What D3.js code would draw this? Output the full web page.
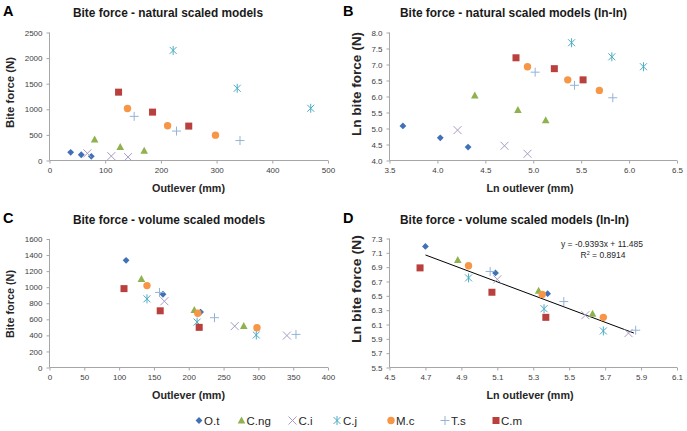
<!DOCTYPE html>
<html><head><meta charset="utf-8">
<script src="https://cdn.jsdelivr.net/npm/d3@7"></script>
<style>
html,body{margin:0;padding:0;background:#fff;}
svg{display:block;font-family:"Liberation Sans",Arial,sans-serif;}
</style></head><body>
<svg id="c" width="687" height="431"></svg>
<script>
// ---------- DATA ----------
const species = ["O.t","C.ng","C.i","C.j","M.c","T.s","C.m"];
const colors  = ["#3f70b8","#8fb24f","#a99bc6","#4bacc6","#f79646","#95b3d7","#b9403d"];
const shapes  = ["diamond","triangle","x","star","circle","plus","square"];

// Panel A: natural scaled models (outlever mm, bite force N)
const A_x = [[38,57,75],[81,127,170],[68,111,141],[222,337,469],[140,212,298],[152,228,342],[124,185,250]];
const A_y = [[160,112,82],[412,262,190],[140,86,67],[2150,1410,1020],[1015,680,495],[862,575,390],[1335,945,672]];
// Panel B: natural scaled models (ln-ln)
const B_x = [[3.64,4.03,4.32],[4.39,4.84,5.13],[4.21,4.70,4.94],[5.40,5.82,6.15],[4.94,5.36,5.69],[5.02,5.43,5.83],[4.82,5.22,5.52]];
const B_y = [[5.08,4.71,4.42],[6.03,5.58,5.26],[4.95,4.46,4.21],[7.68,7.24,6.93],[6.93,6.52,6.19],[6.76,6.35,5.96],[7.21,6.87,6.52]];
// Panel C: volume scaled models
const C_x = [[110,163,217],[132,208,279],[165,266,341],[140,212,297],[140,213,298],[158,237,354],[107,159,215]];
const C_y = [[1335,912,690],[1103,717,518],[825,515,398],[855,565,405],[1020,676,495],[935,620,412],[982,706,500]];
// Panel D: volume scaled models (ln-ln)
const D_x = [[4.70,5.09,5.38],[4.88,5.33,5.63],[5.10,5.59,5.83],[4.94,5.36,5.69],[4.94,5.35,5.69],[5.06,5.47,5.87],[4.67,5.07,5.37]];
const D_y = [[7.19,6.82,6.53],[7.00,6.57,6.25],[6.73,6.23,5.98],[6.75,6.32,6.01],[6.92,6.52,6.20],[6.84,6.42,6.02],[6.89,6.55,6.20]];
const trendSlope = -0.9393, trendIntercept = 11.485, trendR2 = 0.8914;
const trendRange = [4.70, 5.86];

const panels = [
  {letter:"A", title:"Bite force - natural scaled models", xt:"Outlever (mm)", yt:"Bite force (N)",
   xd:[0,500], xticks:[0,100,200,300,400,500], xf:d3.format("d"),
   yd:[0,2500], yticks:[0,500,1000,1500,2000,2500], yf:d3.format("d"),
   X:A_x, Y:A_y, box:[49.5,328,32.5,160.5], ox:0, oy:0,
   tl:[168,190], xl:[188.5,73], yl:[10.5,92.5,71,10.5]},
  {letter:"B", title:"Bite force - natural scaled models (ln-ln)", xt:"Ln outlever (mm)", yt:"Ln bite force (N)",
   xd:[3.5,6.5], xticks:[3.5,4,4.5,5,5.5,6,6.5], xf:d3.format(".1f"),
   yd:[4,8], yticks:[4,4.5,5,5.5,6,6.5,7,7.5,8], yf:d3.format(".1f"),
   X:B_x, Y:B_y, box:[389.5,677,32.5,160.5], ox:340, oy:0,
   tl:[513.5,227], xl:[530,87], yl:[357.5,84,104,12.5]},
  {letter:"C", title:"Bite force - volume scaled models", xt:"Outlever (mm)", yt:"Bite force (N)",
   xd:[0,400], xticks:[0,50,100,150,200,250,300,350,400], xf:d3.format("d"),
   yd:[0,1600], yticks:[0,200,400,600,800,1000,1200,1400,1600], yf:d3.format("d"),
   X:C_x, Y:C_y, box:[49.5,328,239,367.5], ox:0, oy:207,
   tl:[169,192], xl:[188.5,73], yl:[10.5,304,68,10.5]},
  {letter:"D", title:"Bite force - volume scaled models (ln-ln)", xt:"Ln outlever (mm)", yt:"Ln bite force (N)",
   xd:[4.5,6.1], xticks:[4.5,4.7,4.9,5.1,5.3,5.5,5.7,5.9,6.1], xf:d3.format(".1f"),
   yd:[5.5,7.3], yticks:[5.5,5.7,5.9,6.1,6.3,6.5,6.7,6.9,7.1,7.3], yf:d3.format(".1f"),
   X:D_x, Y:D_y, box:[389.5,677,238.5,367.5], ox:340, oy:207, trend:true,
   tl:[514.5,229], xl:[530,87], yl:[357.5,289,108,12.5]}
];

const svg = d3.select("#c");
const axisCol = "#a6a6a6", textCol = "#404040";

function marker(g, shape, color, x, y){
  const s = 3.4;
  if(shape==="diamond"){
    g.append("path").attr("d",`M${x},${y-s}L${x+s},${y}L${x},${y+s}L${x-s},${y}Z`).attr("fill",color);
  } else if(shape==="triangle"){
    g.append("path").attr("d",`M${x},${y-4}L${x+3.8},${y+3}L${x-3.8},${y+3}Z`).attr("fill",color);
  } else if(shape==="square"){
    g.append("rect").attr("x",x-3.5).attr("y",y-3.5).attr("width",7).attr("height",7).attr("fill",color);
  } else if(shape==="circle"){
    g.append("circle").attr("cx",x).attr("cy",y).attr("r",3.7).attr("fill",color);
  } else if(shape==="x"){
    g.append("path").attr("d",`M${x-4},${y-4}L${x+4},${y+4}M${x-4},${y+4}L${x+4},${y-4}`).attr("stroke",color).attr("stroke-width",1).attr("fill","none");
  } else if(shape==="plus"){
    g.append("path").attr("d",`M${x-4.5},${y}L${x+4.5},${y}M${x},${y-4.5}L${x},${y+4.5}`).attr("stroke",color).attr("stroke-width",1).attr("fill","none");
  } else if(shape==="star"){
    g.append("path").attr("d",`M${x-3.5},${y-3.5}L${x+3.5},${y+3.5}M${x-3.5},${y+3.5}L${x+3.5},${y-3.5}M${x},${y-4.5}L${x},${y+4.5}`).attr("stroke",color).attr("stroke-width",1).attr("fill","none");
  }
}

panels.forEach(p=>{
  const [x0,x1,yT,yB] = p.box;
  const xs = d3.scaleLinear().domain(p.xd).range([x0,x1]);
  const ys = d3.scaleLinear().domain(p.yd).range([yB,yT]);
  const g = svg.append("g");

  // axes
  const xa = d3.axisBottom(xs).tickValues(p.xticks).tickFormat(p.xf).tickSize(3).tickPadding(4);
  const ya = d3.axisLeft(ys).tickValues(p.yticks).tickFormat(p.yf).tickSize(3).tickPadding(4);
  const gx = g.append("g").attr("transform",`translate(0,${yB})`).call(xa);
  const gy = g.append("g").attr("transform",`translate(${x0},0)`).call(ya);
  [gx,gy].forEach(a=>{
    a.select(".domain").attr("stroke",axisCol);
    a.selectAll(".tick line").attr("stroke",axisCol);
    a.selectAll(".tick text").attr("fill",textCol).style("font-size","8px").style("font-family","'Liberation Sans',Arial,sans-serif");
  });
  gx.select(".domain").attr("d",`M${x0},0H${x1}`);
  gy.select(".domain").attr("d",`M0,${yT}V${yB}`);

  // trendline
  if(p.trend){
    const f = x=>trendSlope*x+trendIntercept;
    g.append("line").attr("x1",xs(trendRange[0])).attr("y1",ys(f(trendRange[0])))
      .attr("x2",xs(trendRange[1])).attr("y2",ys(f(trendRange[1])))
      .attr("stroke","#000").attr("stroke-width",1);
    g.append("text").attr("x",p.ox+262).attr("y",p.oy+40).attr("text-anchor","middle")
      .style("font-size","8.5px").attr("fill","#262626")
      .text(`y = ${trendSlope}x + ${trendIntercept}`);
    const t = g.append("text").attr("x",p.ox+263).attr("y",p.oy+50.5).attr("text-anchor","middle")
      .style("font-size","8.5px").attr("fill","#262626");
    t.append("tspan").text("R");
    t.append("tspan").attr("dy",-3).style("font-size","5.5px").text("2");
    t.append("tspan").attr("dy",3).text(` = ${trendR2}`);
  }

  // points
  species.forEach((sp,i)=>{
    p.X[i].forEach((xv,j)=>{
      marker(g, shapes[i], colors[i], xs(xv), ys(p.Y[i][j]));
    });
  });

  // titles
  g.append("text").attr("x",p.ox+3).attr("y",p.oy+15.5).style("font-size","14.5px").style("font-weight","bold").attr("fill","#000").text(p.letter);
  g.append("text").attr("x",p.tl[0]).attr("y",p.oy+17).attr("text-anchor","middle")
    .attr("textLength",p.tl[1]).attr("lengthAdjust","spacingAndGlyphs")
    .style("font-size","12px").style("font-weight","bold").attr("fill","#1a1a1a").text(p.title);
  g.append("text").attr("x",p.xl[0]).attr("y",yB+31.5).attr("text-anchor","middle")
    .attr("textLength",p.xl[1]).attr("lengthAdjust","spacingAndGlyphs")
    .style("font-size","10.5px").style("font-weight","bold").attr("fill","#262626").text(p.xt);
  g.append("text").attr("transform",`translate(${p.yl[0]+3.5},${p.yl[1]}) rotate(-90)`).attr("text-anchor","middle")
    .attr("textLength",p.yl[2]).attr("lengthAdjust","spacingAndGlyphs")
    .style("font-size",p.yl[3]+"px").style("font-weight","bold").attr("fill","#262626").text(p.yt);
});

// legend
const legX = [199,241.5,292.5,337,391,445,496];
const lg = svg.append("g");
species.forEach((sp,i)=>{
  marker(lg, shapes[i], colors[i], legX[i], 420.5);
  lg.append("text").attr("x",legX[i]+(shapes[i]==="x"||shapes[i]==="star"||shapes[i]==="plus"?6:5)).attr("y",424.5)
    .style("font-size","11.5px").attr("fill","#262626").text(sp);
});
</script>
</body></html>
